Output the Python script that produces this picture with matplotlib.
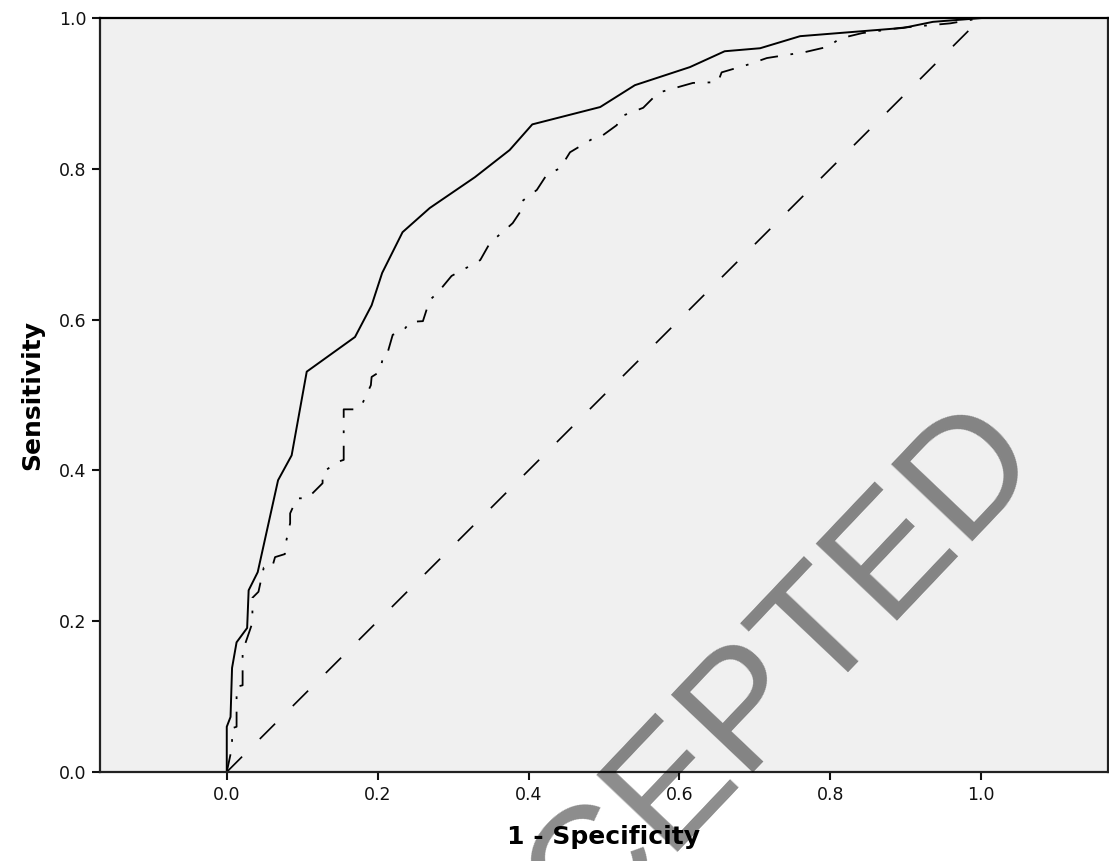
import numpy as np
import matplotlib
matplotlib.use('Agg')
import matplotlib.pyplot as plt

# ROC curve 1 (solid)
fpr_a = [0.000, 0.000, 0.005, 0.007, 0.013, 0.027, 0.029, 0.041, 0.068, 0.086,
         0.106, 0.170, 0.192, 0.206, 0.233, 0.269, 0.329, 0.375, 0.405, 0.495,
         0.541, 0.614, 0.660, 0.707, 0.760, 0.897, 0.936, 1.000]
tpr_a = [0.000, 0.060, 0.073, 0.138, 0.172, 0.191, 0.241, 0.265, 0.387, 0.420,
         0.531, 0.577, 0.619, 0.662, 0.716, 0.748, 0.789, 0.825, 0.859, 0.882,
         0.911, 0.935, 0.956, 0.960, 0.976, 0.987, 0.995, 1.000]

# ROC curve 2 (dash-dot, stepped)
fpr_b = [0.000, 0.007, 0.007, 0.013, 0.013, 0.021, 0.021, 0.034, 0.034, 0.042,
         0.049, 0.060, 0.064, 0.077, 0.077, 0.084, 0.084, 0.093, 0.107, 0.127,
         0.127, 0.146, 0.155, 0.155, 0.172, 0.179, 0.191, 0.192, 0.203, 0.207,
         0.212, 0.220, 0.233, 0.243, 0.260, 0.269, 0.279, 0.298, 0.320, 0.336,
         0.349, 0.369, 0.379, 0.389, 0.390, 0.411, 0.424, 0.442, 0.455, 0.485,
         0.495, 0.517, 0.521, 0.552, 0.572, 0.618, 0.651, 0.656, 0.690, 0.716,
         0.767, 0.797, 0.813, 0.842, 0.893, 0.959, 1.000]
tpr_b = [0.000, 0.033, 0.058, 0.060, 0.113, 0.115, 0.160, 0.198, 0.231, 0.239,
         0.271, 0.271, 0.285, 0.289, 0.298, 0.330, 0.343, 0.363, 0.363, 0.383,
         0.397, 0.411, 0.414, 0.481, 0.481, 0.487, 0.513, 0.524, 0.531, 0.550,
         0.552, 0.580, 0.584, 0.597, 0.598, 0.626, 0.635, 0.658, 0.670, 0.679,
         0.702, 0.719, 0.728, 0.743, 0.756, 0.772, 0.792, 0.801, 0.822, 0.840,
         0.842, 0.858, 0.869, 0.881, 0.901, 0.914, 0.915, 0.928, 0.938, 0.947,
         0.955, 0.962, 0.973, 0.980, 0.987, 0.993, 1.000]

ref_line = [0.0, 1.0]
ticks = [0.0, 0.2, 0.4, 0.6, 0.8, 1.0]

fig = plt.figure(figsize=(11.09, 8.61), dpi=100)
ax = fig.add_axes([0.0902, 0.1034, 0.9088, 0.8756])
ax.set_facecolor('#f0f0f0')

ax.plot(ref_line, ref_line, color='black', lw=1.2, linestyle=(0, (13, 15)))
ax.plot(fpr_b, tpr_b, color='black', lw=1.3, linestyle=(0, (10, 7, 1.5, 7)))
ax.plot(fpr_a, tpr_a, color='black', lw=1.4)

ax.set_xlim(-0.168, 1.168)
ax.set_ylim(0, 1)
ax.set_xticks(ticks)
ax.set_yticks(ticks)
ax.set_xticklabels(['%.1f' % t for t in ticks])
ax.set_yticklabels(['%.1f' % t for t in ticks])
ax.tick_params(direction='out', length=6, width=1.5, labelsize=12.5, colors='#111111', pad=4)

for s in ax.spines.values():
  s.set_linewidth(1.6)
  s.set_color('#222222')
ax.spines['top'].set_color('black')

ax.set_xlabel('1 - Specificity', fontsize=18, fontweight='bold', labelpad=15)
ax.set_ylabel('Sensitivity', fontsize=18, fontweight='bold', labelpad=10)

# watermark
fig.text(0.638, 0.118, 'ACCEPTED', fontsize=118, color='black', alpha=0.45,
         family='Liberation Sans', rotation=46.5, rotation_mode='anchor',
         ha='center', va='center')

fig.savefig('out.png', dpi=100)
